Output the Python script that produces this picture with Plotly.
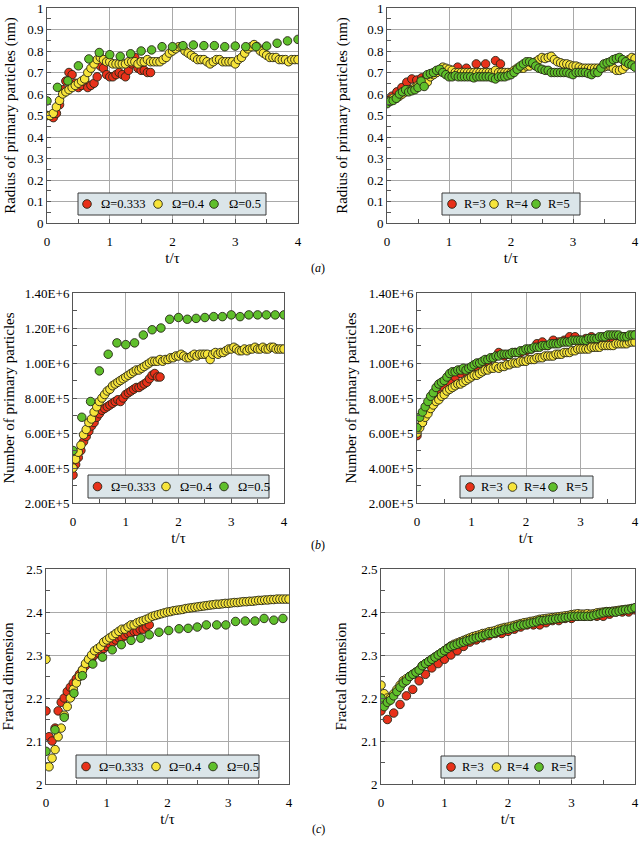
import plotly.graph_objects as go

# ---------------- data ----------------
T05 = [0.00, 0.05, 0.10, 0.15, 0.20, 0.25, 0.30, 0.35, 0.40, 0.45,
       0.50, 0.55, 0.60, 0.65, 0.70, 0.75, 0.80, 0.85, 0.90, 0.95,
       1.00, 1.05, 1.10, 1.15, 1.20, 1.25, 1.30, 1.35, 1.40, 1.45,
       1.50, 1.55, 1.60, 1.65, 1.70, 1.75, 1.80, 1.85, 1.90, 1.95,
       2.00, 2.05, 2.10, 2.15, 2.20, 2.25, 2.30, 2.35, 2.40, 2.45,
       2.50, 2.55, 2.60, 2.65, 2.70, 2.75, 2.80, 2.85, 2.90, 2.95,
       3.00, 3.05, 3.10, 3.15, 3.20, 3.25, 3.30, 3.35, 3.40, 3.45,
       3.50, 3.55, 3.60, 3.65, 3.70, 3.75, 3.80, 3.85, 3.90, 3.95,
       4.00]
T10 = [0.0, 0.1, 0.2, 0.3, 0.4, 0.5, 0.6, 0.7, 0.8, 0.9,
       1.0, 1.1, 1.2, 1.3, 1.4, 1.5, 1.6, 1.7, 1.8, 1.9,
       2.0, 2.1, 2.2, 2.3, 2.4, 2.5, 2.6, 2.7, 2.8, 2.9,
       3.0, 3.1, 3.2, 3.3, 3.4, 3.5, 3.6, 3.7, 3.8, 3.9,
       4.0]
T6 = [0.0, 0.167, 0.333, 0.5, 0.667, 0.833, 1.0, 1.167, 1.333, 1.5,
      1.667, 1.833, 2.0, 2.167, 2.333, 2.5, 2.667, 2.833, 3.0, 3.167,
      3.333, 3.5, 3.667, 3.833, 4.0]

OMEGA_LABELS = ["Ω=0.333", "Ω=0.4", "Ω=0.5"]
R_LABELS = ["R=3", "R=4", "R=5"]

# (a) radius of primary particles, Omega series
A1_RED_T = T05[:34]
A1_RED = [0.50, 0.50, 0.49, 0.51, 0.55, 0.62, 0.66, 0.70, 0.69, 0.65,
          0.63, 0.64, 0.66, 0.63, 0.64, 0.65, 0.68, 0.73, 0.72, 0.69,
          0.68, 0.68, 0.69, 0.70, 0.69, 0.68, 0.71, 0.74, 0.77, 0.72,
          0.71, 0.71, 0.70, 0.70]
A1_YEL = [0.50, 0.50, 0.51, 0.54, 0.57, 0.60, 0.61, 0.62, 0.63, 0.64,
          0.65, 0.66, 0.67, 0.70, 0.72, 0.74, 0.76, 0.77, 0.76, 0.75,
          0.75, 0.74, 0.74, 0.74, 0.74, 0.74, 0.75, 0.75, 0.75, 0.74,
          0.75, 0.75, 0.76, 0.75, 0.75, 0.75, 0.75, 0.76, 0.77, 0.79,
          0.80, 0.81, 0.82, 0.82, 0.80, 0.79, 0.78, 0.77, 0.76, 0.76,
          0.76, 0.75, 0.74, 0.75, 0.76, 0.76, 0.75, 0.75, 0.75, 0.75,
          0.74, 0.76, 0.77, 0.79, 0.81, 0.82, 0.83, 0.82, 0.80, 0.79,
          0.78, 0.77, 0.77, 0.77, 0.76, 0.76, 0.76, 0.75, 0.76, 0.76,
          0.76]
A1_GRN = [0.568, 0.631, 0.661, 0.731, 0.763, 0.793, 0.783, 0.775, 0.787, 0.800,
          0.805, 0.820, 0.820, 0.825, 0.828, 0.825, 0.825, 0.820, 0.823, 0.820,
          0.820, 0.823, 0.836, 0.847, 0.854]

# (a) radius of primary particles, R series
A2_RED_T = [0.0, 0.08, 0.16, 0.24, 0.32, 0.40, 0.48, 0.56, 0.64, 0.72,
            0.80, 0.88, 0.96, 1.04, 1.14, 1.28, 1.44, 1.59, 1.75, 1.83]
A2_RED = [0.57, 0.59, 0.61, 0.63, 0.655, 0.67, 0.665, 0.675, 0.68, 0.69,
          0.70, 0.71, 0.71, 0.71, 0.725, 0.72, 0.74, 0.74, 0.755, 0.74]
A2_YEL = [0.56, 0.57, 0.58, 0.58, 0.59, 0.60, 0.61, 0.62, 0.62, 0.63,
          0.64, 0.65, 0.66, 0.655, 0.68, 0.69, 0.70, 0.71, 0.725, 0.72,
          0.715, 0.71, 0.70, 0.70, 0.70, 0.70, 0.70, 0.70, 0.70, 0.70,
          0.70, 0.70, 0.70, 0.70, 0.70, 0.71, 0.70, 0.70, 0.70, 0.70,
          0.70, 0.71, 0.72, 0.72, 0.72, 0.73, 0.73, 0.74, 0.75, 0.76,
          0.77, 0.765, 0.77, 0.775, 0.76, 0.75, 0.745, 0.74, 0.74, 0.735,
          0.73, 0.73, 0.725, 0.72, 0.72, 0.72, 0.72, 0.72, 0.72, 0.72,
          0.725, 0.73, 0.73, 0.72, 0.71, 0.71, 0.715, 0.73, 0.76, 0.77,
          0.765]
A2_GRN = [0.555, 0.565, 0.57, 0.58, 0.60, 0.61, 0.62, 0.61, 0.615, 0.62,
          0.63, 0.66, 0.635, 0.69, 0.695, 0.70, 0.71, 0.715, 0.70, 0.69,
          0.68, 0.68, 0.685, 0.68, 0.68, 0.68, 0.68, 0.68, 0.675, 0.68,
          0.68, 0.68, 0.68, 0.68, 0.675, 0.67, 0.68, 0.68, 0.68, 0.685,
          0.69, 0.70, 0.715, 0.73, 0.74, 0.75, 0.75, 0.745, 0.73, 0.72,
          0.715, 0.71, 0.71, 0.70, 0.70, 0.70, 0.70, 0.70, 0.70, 0.695,
          0.69, 0.70, 0.70, 0.70, 0.70, 0.695, 0.69, 0.70, 0.70, 0.72,
          0.74, 0.745, 0.75, 0.76, 0.765, 0.77, 0.76, 0.75, 0.74, 0.735,
          0.725]

# (b) number of primary particles, Omega series
B1_RED_T = T05[:34]
B1_RED = [3.6e5, 4.2e5, 4.6e5, 5.0e5, 5.5e5, 5.8e5, 6.1e5, 6.4e5, 6.6e5, 6.9e5,
          7.1e5, 7.3e5, 7.4e5, 7.5e5, 7.6e5, 7.7e5, 7.8e5, 7.9e5, 7.8e5, 8.0e5,
          8.2e5, 8.3e5, 8.4e5, 8.5e5, 8.6e5, 8.6e5, 8.7e5, 8.8e5, 8.9e5, 9.1e5,
          9.3e5, 9.4e5, 9.2e5, 9.2e5]
B1_YEL = [4.0e5, 4.5e5, 4.9e5, 5.3e5, 5.9e5, 6.2e5, 6.6e5, 6.8e5, 7.2e5, 7.5e5,
          7.8e5, 8.0e5, 8.2e5, 8.4e5, 8.5e5, 8.7e5, 8.8e5, 8.9e5, 9.0e5, 9.1e5,
          9.2e5, 9.3e5, 9.4e5, 9.5e5, 9.6e5, 9.6e5, 9.7e5, 9.8e5, 9.9e5, 1.00e6,
          1.01e6, 1.01e6, 1.01e6, 1.02e6, 1.01e6, 1.02e6, 1.02e6, 1.03e6, 1.03e6, 1.04e6,
          1.04e6, 1.05e6, 1.04e6, 1.03e6, 1.03e6, 1.04e6, 1.05e6, 1.04e6, 1.05e6, 1.05e6,
          1.05e6, 1.05e6, 1.02e6, 1.05e6, 1.06e6, 1.05e6, 1.06e6, 1.06e6, 1.07e6, 1.08e6,
          1.08e6, 1.09e6, 1.08e6, 1.07e6, 1.07e6, 1.08e6, 1.07e6, 1.08e6, 1.08e6, 1.09e6,
          1.08e6, 1.08e6, 1.09e6, 1.08e6, 1.08e6, 1.09e6, 1.09e6, 1.08e6, 1.08e6, 1.08e6,
          1.08e6]
B1_GRN = [5.0e5, 6.9e5, 7.8e5, 9.55e5, 1.05e6, 1.115e6, 1.105e6, 1.115e6, 1.16e6, 1.19e6,
          1.20e6, 1.25e6, 1.26e6, 1.25e6, 1.255e6, 1.26e6, 1.265e6, 1.265e6, 1.275e6, 1.265e6,
          1.275e6, 1.275e6, 1.275e6, 1.275e6, 1.275e6]

# (b) number of primary particles, R series
B2_RED = [5.85e5, 6.6e5, 7.2e5, 7.7e5, 8.2e5, 8.6e5, 8.9e5, 9.2e5, 9.4e5, 9.5e5,
          9.7e5, 9.8e5, 9.9e5, 1.01e6, 1.03e6, 1.06e6, 1.04e6, 1.05e6, 1.06e6, 1.06e6,
          1.07e6, 1.08e6, 1.11e6, 1.12e6, 1.10e6, 1.13e6, 1.12e6, 1.13e6, 1.15e6, 1.15e6,
          1.13e6, 1.14e6, 1.15e6, 1.13e6, 1.14e6, 1.14e6, 1.14e6, 1.15e6, 1.15e6, 1.15e6,
          1.16e6]
B2_YEL = [6.0e5, 6.3e5, 6.6e5, 6.9e5, 7.1e5, 7.4e5, 7.6e5, 7.8e5, 7.9e5, 8.1e5,
          8.2e5, 8.4e5, 8.5e5, 8.6e5, 8.7e5, 8.8e5, 8.8e5, 8.9e5, 9.0e5, 9.1e5,
          9.2e5, 9.3e5, 9.3e5, 9.4e5, 9.5e5, 9.6e5, 9.6e5, 9.7e5, 9.7e5, 9.8e5,
          9.7e5, 9.8e5, 9.8e5, 9.9e5, 9.9e5, 1.00e6, 1.00e6, 1.00e6, 1.01e6, 1.01e6,
          1.01e6, 1.02e6, 1.02e6, 1.02e6, 1.03e6, 1.03e6, 1.03e6, 1.04e6, 1.04e6, 1.04e6,
          1.04e6, 1.05e6, 1.05e6, 1.05e6, 1.06e6, 1.06e6, 1.06e6, 1.07e6, 1.07e6, 1.08e6,
          1.08e6, 1.08e6, 1.08e6, 1.08e6, 1.09e6, 1.09e6, 1.09e6, 1.09e6, 1.10e6, 1.10e6,
          1.10e6, 1.10e6, 1.10e6, 1.11e6, 1.11e6, 1.11e6, 1.11e6, 1.11e6, 1.12e6, 1.12e6,
          1.12e6]
B2_GRN = [6.3e5, 6.9e5, 7.2e5, 7.5e5, 7.8e5, 8.1e5, 8.3e5, 8.6e5, 8.8e5, 8.9e5,
          9.0e5, 9.2e5, 9.4e5, 9.5e5, 9.5e5, 9.6e5, 9.6e5, 9.7e5, 9.6e5, 9.7e5,
          9.8e5, 9.9e5, 1.00e6, 1.00e6, 1.01e6, 1.02e6, 1.02e6, 1.03e6, 1.03e6, 1.04e6,
          1.04e6, 1.05e6, 1.05e6, 1.05e6, 1.05e6, 1.06e6, 1.06e6, 1.06e6, 1.07e6, 1.07e6,
          1.08e6, 1.08e6, 1.08e6, 1.09e6, 1.09e6, 1.09e6, 1.10e6, 1.10e6, 1.10e6, 1.11e6,
          1.11e6, 1.11e6, 1.11e6, 1.12e6, 1.12e6, 1.12e6, 1.12e6, 1.13e6, 1.13e6, 1.13e6,
          1.13e6, 1.13e6, 1.13e6, 1.14e6, 1.14e6, 1.14e6, 1.14e6, 1.15e6, 1.15e6, 1.15e6,
          1.16e6, 1.16e6, 1.16e6, 1.16e6, 1.16e6, 1.15e6, 1.15e6, 1.15e6, 1.16e6, 1.16e6,
          1.16e6]

# (c) fractal dimension, Omega series
C1_RED_T = T05[:35]
C1_RED = [2.17, 2.11, 2.10, 2.13, 2.17, 2.19, 2.20, 2.215, 2.225, 2.235,
          2.245, 2.255, 2.265, 2.275, 2.285, 2.29, 2.30, 2.305, 2.31, 2.315,
          2.32, 2.325, 2.33, 2.335, 2.34, 2.34, 2.345, 2.35, 2.35, 2.355,
          2.355, 2.36, 2.36, 2.365, 2.37]
C1_YEL = [2.29, 2.04, 2.06, 2.08, 2.11, 2.13, 2.16, 2.18, 2.20, 2.22,
          2.235, 2.25, 2.265, 2.28, 2.29, 2.30, 2.31, 2.315, 2.32, 2.33,
          2.335, 2.34, 2.345, 2.35, 2.355, 2.36, 2.36, 2.365, 2.37, 2.37,
          2.375, 2.378, 2.38, 2.383, 2.386, 2.39, 2.392, 2.394, 2.396, 2.398,
          2.40, 2.401, 2.403, 2.404, 2.405, 2.406, 2.408, 2.409, 2.41, 2.411,
          2.412, 2.413, 2.414, 2.415, 2.416, 2.417, 2.418, 2.418, 2.419, 2.42,
          2.42, 2.421, 2.422, 2.422, 2.423, 2.424, 2.424, 2.425, 2.425, 2.426,
          2.427, 2.427, 2.428, 2.428, 2.429, 2.429, 2.43, 2.43, 2.43, 2.43,
          2.43]
C1_GRN_T = [0.0, 0.148, 0.30, 0.46, 0.60, 0.77, 0.93, 1.09, 1.24, 1.40,
            1.56, 1.70, 1.86, 2.02, 2.19, 2.34, 2.49, 2.64, 2.81, 2.96,
            3.12, 3.28, 3.44, 3.59, 3.75, 3.90]
C1_GRN = [2.076, 2.126, 2.155, 2.211, 2.252, 2.279, 2.295, 2.312, 2.324, 2.334,
          2.339, 2.347, 2.353, 2.357, 2.361, 2.362, 2.365, 2.37, 2.37, 2.37,
          2.378, 2.379, 2.379, 2.385, 2.381, 2.385]

# (c) fractal dimension, R series
C2_RED = [2.17, 2.15, 2.165, 2.185, 2.205, 2.22, 2.24, 2.255, 2.27, 2.28,
          2.29, 2.30, 2.31, 2.32, 2.33, 2.335, 2.34, 2.345, 2.35, 2.35,
          2.355, 2.36, 2.365, 2.37, 2.37, 2.37, 2.375, 2.38, 2.38, 2.385,
          2.385, 2.39, 2.39, 2.39, 2.39, 2.39, 2.395, 2.40, 2.40, 2.40,
          2.405]
C2_YEL = [2.23, 2.21, 2.20, 2.20, 2.21, 2.22, 2.23, 2.24, 2.245, 2.25,
          2.255, 2.26, 2.265, 2.275, 2.28, 2.285, 2.29, 2.295, 2.30, 2.305,
          2.31, 2.316, 2.321, 2.325, 2.328, 2.331, 2.334, 2.337, 2.34, 2.343,
          2.345, 2.347, 2.35, 2.351, 2.354, 2.355, 2.357, 2.36, 2.362, 2.364,
          2.365, 2.367, 2.369, 2.371, 2.373, 2.375, 2.376, 2.378, 2.379, 2.381,
          2.383, 2.384, 2.385, 2.386, 2.387, 2.388, 2.389, 2.39, 2.391, 2.392,
          2.394, 2.395, 2.396, 2.395, 2.395, 2.396, 2.395, 2.396, 2.398, 2.399,
          2.40, 2.401, 2.401, 2.402, 2.403, 2.404, 2.405, 2.406, 2.407, 2.408,
          2.409]
C2_GRN = [2.20, 2.18, 2.19, 2.195, 2.205, 2.215, 2.225, 2.235, 2.24, 2.25,
          2.255, 2.26, 2.265, 2.275, 2.28, 2.285, 2.29, 2.295, 2.30, 2.305,
          2.31, 2.315, 2.32, 2.322, 2.325, 2.328, 2.33, 2.333, 2.335, 2.338,
          2.34, 2.342, 2.345, 2.347, 2.35, 2.35, 2.352, 2.355, 2.357, 2.36,
          2.36, 2.362, 2.365, 2.367, 2.37, 2.37, 2.372, 2.374, 2.375, 2.377,
          2.38, 2.38, 2.381, 2.382, 2.383, 2.384, 2.385, 2.386, 2.387, 2.388,
          2.39, 2.39, 2.39, 2.39, 2.39, 2.39, 2.39, 2.392, 2.394, 2.396,
          2.398, 2.40, 2.40, 2.40, 2.40, 2.402, 2.404, 2.405, 2.405, 2.408,
          2.41]

B_TICKVALS = [2e5, 4e5, 6e5, 8e5, 1e6, 1.2e6, 1.4e6]
B_TICKTEXT = ["2.00E+5", "4.00E+5", "6.00E+5", "8.00E+5", "1.00E+6", "1.20E+6", "1.40E+6"]

# ---------------- style ----------------
W, H = 640, 841
FONT = "Liberation Serif, 'Times New Roman', Times, 'DejaVu Serif', serif"
COLORS = ["#e8311a", "#f7e43a", "#5fbf2b"]
OUTLINE = "#262615"
GRID = "#a9a9a9"
FRAME = "#555555"
LEG_BG = "#dbe5e9"

YT_RADIUS = "Radius of primary particles (nm)"
YT_NUMBER = "Number of primary particles"
YT_FRACTAL = "Fractal dimension"

# legend key layout (pixels): box (x0, y0, x1, y1), symbol x-centres, text x-starts
panels = [
    dict(px=(47, 298), py=(8, 223), data=[(A1_RED_T, A1_RED), (T05, A1_YEL), (T6, A1_GRN)],
         labels=OMEGA_LABELS, ytitle=YT_RADIUS, yrange=[0, 1], dtick=0.1, minor=0.05,
         box=(78, 193, 266, 215), sym=(87, 158, 214), txt=(99, 170, 227), ystand=7),
    dict(px=(387, 635), py=(8, 223), data=[(A2_RED_T, A2_RED), (T05, A2_YEL), (T05, A2_GRN)],
         labels=R_LABELS, ytitle=YT_RADIUS, yrange=[0, 1], dtick=0.1, minor=0.05,
         box=(442, 193, 580, 215), sym=(452, 494, 536), txt=(462, 504, 546), ystand=15),
    dict(px=(73, 284), py=(293, 503), data=[(B1_RED_T, B1_RED), (T05, B1_YEL), (T6, B1_GRN)],
         labels=OMEGA_LABELS, ytitle=YT_NUMBER, yrange=[2e5, 1.4e6], dtick=None, minor=1e5,
         box=(88, 475, 269, 498), sym=(97.5, 166, 224), txt=(109, 178, 236), ystand=6),
    dict(px=(417, 635), py=(293, 503), data=[(T10, B2_RED), (T05, B2_YEL), (T05, B2_GRN)],
         labels=R_LABELS, ytitle=YT_NUMBER, yrange=[2e5, 1.4e6], dtick=None, minor=1e5,
         box=(460, 476, 593, 498), sym=(470, 512.5, 553), txt=(479, 522, 564), ystand=8),
    dict(px=(46, 289), py=(569, 784), data=[(C1_RED_T, C1_RED), (T05, C1_YEL), (C1_GRN_T, C1_GRN)],
         labels=OMEGA_LABELS, ytitle=YT_FRACTAL, yrange=[2, 2.5], dtick=0.1, minor=0.05,
         box=(76, 755, 259, 778), sym=(86, 156, 213), txt=(97, 167, 225), ystand=8),
    dict(px=(381, 635), py=(569, 784), data=[(T10, C2_RED), (T05, C2_YEL), (T05, C2_GRN)],
         labels=R_LABELS, ytitle=YT_FRACTAL, yrange=[2, 2.5], dtick=0.1, minor=0.05,
         box=(441, 756, 575, 778), sym=(451, 496.5, 539), txt=(460, 505, 549), ystand=10),
]

fig = go.Figure()
layout = dict(width=W, height=H, margin=dict(l=0, r=0, t=0, b=0),
              paper_bgcolor="white", plot_bgcolor="white", showlegend=False,
              font=dict(family=FONT, size=13, color="black"),
              annotations=[], shapes=[])

R_SYM = 4.3
for i, p in enumerate(panels, start=1):
    sfx = "" if i == 1 else str(i)
    for (t, y), lab, col in zip(p["data"], p["labels"], COLORS):
        fig.add_trace(go.Scatter(
            x=t, y=y, mode="markers", name=lab, showlegend=False,
            xaxis="x" + sfx, yaxis="y" + sfx,
            marker=dict(size=8.5, color=col, line=dict(width=0.9, color=OUTLINE)),
        ))
    x0, x1 = p["px"]
    y0, y1 = p["py"]
    layout["xaxis" + sfx] = dict(
        domain=[x0 / W, x1 / W], anchor="y" + sfx, range=[0, 4], dtick=1, tick0=0,
        automargin=False, ticklabeloverflow="allow",
        showgrid=True, gridcolor=GRID, gridwidth=1, zeroline=False,
        showline=True, linecolor=FRAME, linewidth=1, mirror=True,
        ticks="inside", ticklen=4, tickcolor=FRAME, ticklabelstandoff=6,
        minor=dict(dtick=0.5, tick0=0, ticks="inside", ticklen=4, tickcolor=FRAME, showgrid=False),
        tickfont=dict(family=FONT, size=13),
        title=dict(text="t/τ", font=dict(family=FONT, size=15), standoff=4),
    )
    yax = dict(
        domain=[1 - y1 / H, 1 - y0 / H], anchor="x" + sfx, range=p["yrange"],
        automargin=False, ticklabeloverflow="allow",
        showgrid=True, gridcolor=GRID, gridwidth=1, zeroline=False,
        showline=True, linecolor=FRAME, linewidth=1, mirror=True,
        ticks="inside", ticklen=4, tickcolor=FRAME,
        minor=dict(dtick=p["minor"], tick0=p["yrange"][0], ticks="inside", ticklen=4,
                   tickcolor=FRAME, showgrid=False),
        tickfont=dict(family=FONT, size=13),
        title=dict(text=p["ytitle"], font=dict(family=FONT, size=15), standoff=p["ystand"]),
    )
    if p["dtick"] is None:
        yax.update(tickmode="array", tickvals=B_TICKVALS, ticktext=B_TICKTEXT)
    else:
        yax.update(dtick=p["dtick"], tick0=p["yrange"][0])
    layout["yaxis" + sfx] = yax

    # legend key box
    bx0, by0, bx1, by1 = p["box"]
    cy = (by0 + by1) / 2
    layout["shapes"].append(dict(
        type="rect", xref="paper", yref="paper",
        x0=bx0 / W, x1=bx1 / W, y0=1 - by1 / H, y1=1 - by0 / H,
        fillcolor=LEG_BG, line=dict(color="#3a3a3a", width=1), layer="above"))
    for sx, tx, lab, col in zip(p["sym"], p["txt"], p["labels"], COLORS):
        layout["shapes"].append(dict(
            type="circle", xref="paper", yref="paper",
            x0=(sx - R_SYM) / W, x1=(sx + R_SYM) / W,
            y0=1 - (cy + R_SYM) / H, y1=1 - (cy - R_SYM) / H,
            fillcolor=col, line=dict(color=OUTLINE, width=0.9), layer="above"))
        layout["annotations"].append(dict(
            text=lab, x=tx / W, y=1 - cy / H, xref="paper", yref="paper",
            xanchor="left", yanchor="middle", showarrow=False,
            font=dict(family=FONT, size=12.5, color="black")))

for txt, yy in [("(<i>a</i>)", 268), ("(<i>b</i>)", 545), ("(<i>c</i>)", 829)]:
    layout["annotations"].append(dict(
        text=txt, x=318 / W, y=1 - yy / H, xref="paper", yref="paper",
        xanchor="center", yanchor="middle", showarrow=False,
        font=dict(family=FONT, size=12, color="black")))

fig.update_layout(**layout)
fig.write_html("out.html",
               config={"displayModeBar": False},
               post_script="document.body.style.margin='0';document.body.style.overflow='hidden';")
